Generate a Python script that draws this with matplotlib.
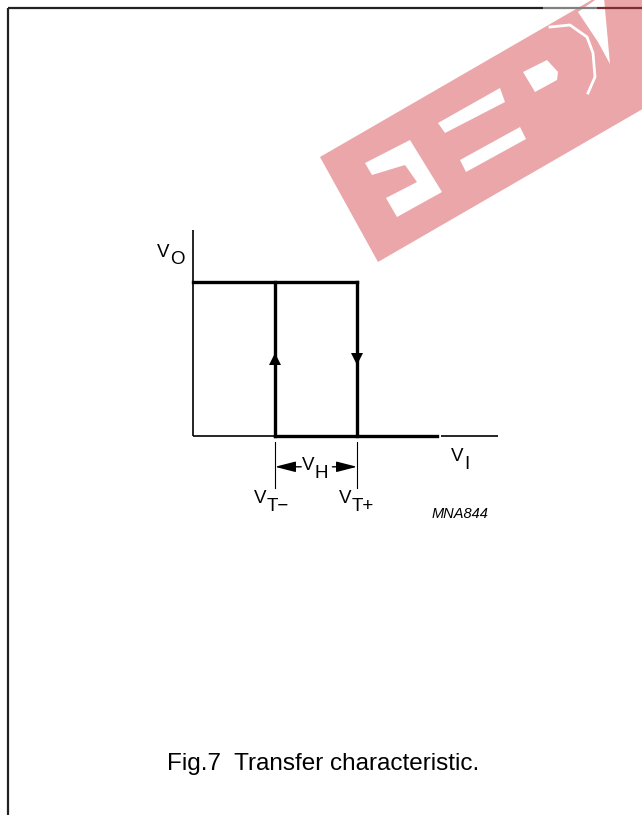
import matplotlib.pyplot as plt
from matplotlib.patches import Polygon

plt.rcParams['font.family'] = ['Liberation Sans', 'DejaVu Sans']

# transfer characteristic, normalised units
vt_minus = 1.0
vt_plus = 2.0
v_high = 1.0
v_low = 0.0
vi_end = 2.97
x_axis_segments = [(0.0, 2.98), (3.03, 3.72)]
y_axis_top = 1.34
arrow_level = 0.5
dim_level = -0.2
dim_ext = (-0.04, -0.34)
dim_gap = (1.32, 1.70)

# picture geometry: origin pixel and pixels per unit
W, H = 642, 815
ox, oy = 193, 436
sx, sy = 82, 154


def px(x, y):
    return (x - ox) / sx, (oy - y) / sy


fig = plt.figure(figsize=(W / 100, H / 100), dpi=100)

# background layer in image pixels (frame + watermark)
bg = fig.add_axes([0, 0, 1, 1])
bg.set_xlim(0, W)
bg.set_ylim(H, 0)
bg.axis('off')

pink = '#eba6a9'
band = [(320, 157), (378, 262), (724, 62), (666, -43)]
bg.add_patch(Polygon(band, closed=True, fc=pink, ec='none', zorder=1))
holes = [
    [(365, 163), (410, 140), (442, 192), (397, 217), (386, 198), (417, 182), (405, 165), (372, 175)],
    [(438, 123), (500, 88), (505, 102), (445, 133)],
    [(460, 160), (520, 127), (526, 139), (466, 172)],
    [(523, 72), (547, 60), (558, 72), (557, 80), (535, 92)],
    [(578, 12), (598, -2), (604, -2), (610, 64), (598, 42)],
]
for h in holes:
    bg.add_patch(Polygon(h, closed=True, fc='white', ec='none', zorder=2))
bg.plot([550, 570, 587, 593, 595, 588], [27, 25, 37, 53, 77, 93], color='white', lw=2, zorder=2)

# frame
bg.plot([8, 8], [8, H + 2], color='#222222', lw=1.6, zorder=3, solid_capstyle='butt')
bg.plot([8, 543], [8, 8], color='#222222', lw=1.6, zorder=3, solid_capstyle='butt')
bg.plot([543, 597], [8, 8], color='#808080', lw=1.6, zorder=3, solid_capstyle='butt')
bg.plot([597, W], [8, 8], color='#7a2e30', lw=1.6, zorder=3, solid_capstyle='butt')

# chart layer in data units
ax = fig.add_axes([0, 0, 1, 1])
ax.patch.set_alpha(0)
ax.set_xlim(-ox / sx, (W - ox) / sx)
ax.set_ylim((oy - H) / sy, oy / sy)
ax.axis('off')

# axes
ax.plot([0, 0], [0, y_axis_top], color='k', lw=1.2, solid_capstyle='butt')
for a, b in x_axis_segments:
    ax.plot([a, b], [0, 0], color='k', lw=1.2, solid_capstyle='butt')

# hysteresis loop
thick = dict(color='k', lw=2.4, solid_capstyle='projecting')
ax.plot([0, vt_plus], [v_high, v_high], **thick)
ax.plot([vt_plus, vt_plus], [v_high, v_low], **thick)
ax.plot([vt_minus, vi_end], [v_low, v_low], **thick)
ax.plot([vt_minus, vt_minus], [v_low, v_high], **thick)
ax.plot([vt_minus], [arrow_level], marker='^', color='k', ms=9, mew=0)
ax.plot([vt_plus], [arrow_level], marker='v', color='k', ms=9, mew=0)

# hysteresis width dimension
for xv in (vt_minus, vt_plus):
    ax.plot([xv, xv], list(dim_ext), color='k', lw=0.8)
ap = dict(arrowstyle='-|>,head_length=0.7,head_width=0.18', color='k', lw=1.0,
          shrinkA=0, shrinkB=0, mutation_scale=18)
ax.annotate('', xy=(vt_minus, dim_level), xytext=(dim_gap[0], dim_level), arrowprops=ap)
ax.annotate('', xy=(vt_plus, dim_level), xytext=(dim_gap[1], dim_level), arrowprops=ap)


def label(x, y, main, sub, sub_dx, sub_dy, size=13.5):
    ax.text(*px(x, y), main, fontsize=size, ha='left', va='baseline')
    ax.text(*px(x + sub_dx, y + sub_dy), sub, fontsize=size, ha='left', va='baseline')


label(157, 257, 'V', 'O', 13, 7)
label(451, 461, 'V', 'I', 13, 8)
label(302, 470, 'V', 'H', 12, 8)
label(254, 503, 'V', 'T\u2212', 13, 8)
label(339, 503, 'V', 'T+', 13, 8)

ax.text(*px(432, 518), 'MNA844', fontsize=10.5, style='italic', ha='left', va='baseline')

fig.text(323.5 / W, 1 - 770 / H, 'Fig.7  Transfer characteristic.', fontsize=17.5,
         ha='center', va='baseline')

fig.savefig('out.png', dpi=100)
